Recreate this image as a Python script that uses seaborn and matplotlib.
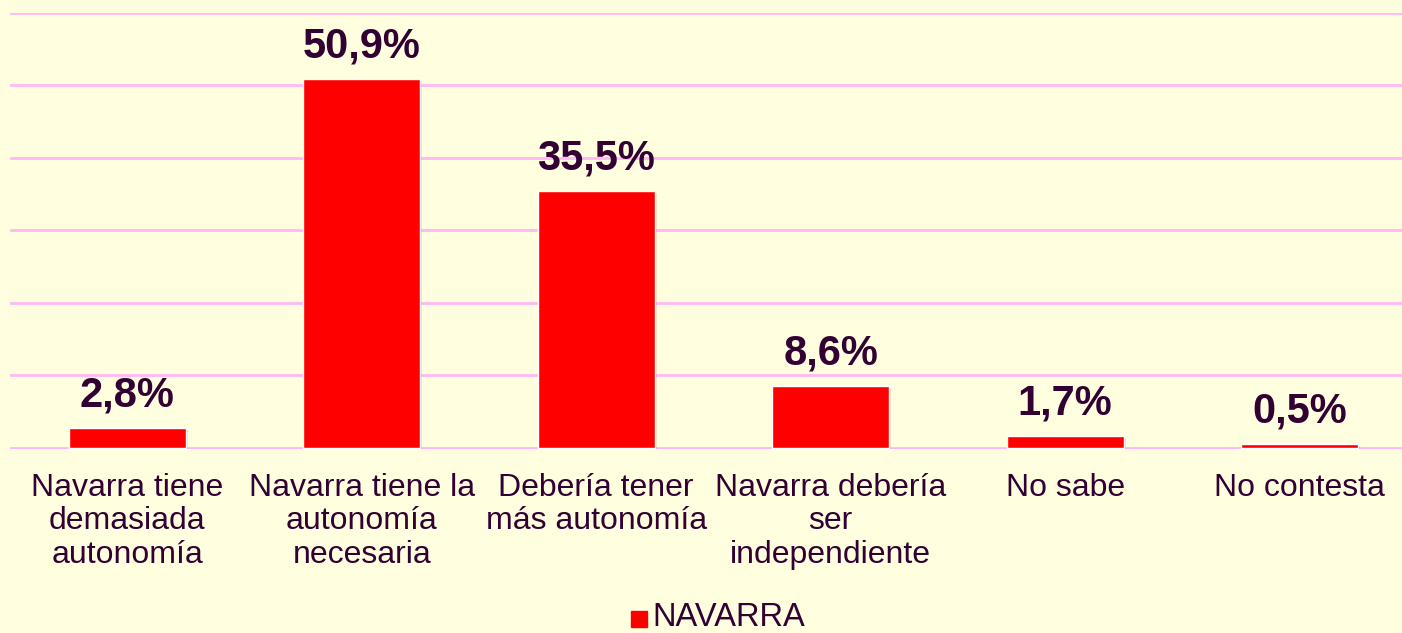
import matplotlib
matplotlib.use('Agg')
import matplotlib.pyplot as plt
import matplotlib.patheffects as pe
import seaborn as sns
import pandas as pd

# datos
categorias = [
    "Navarra tiene\ndemasiada\nautonomía",
    "Navarra tiene la\nautonomía\nnecesaria",
    "Debería tener\nmás autonomía",
    "Navarra debería\nser\nindependiente",
    "No sabe",
    "No contesta",
]
valores = [2.8, 50.9, 35.5, 8.6, 1.7, 0.5]
serie = "NAVARRA"

fondo = "#FFFFE0"
texto = "#330033"
rejilla = "#FFB8F5"

sns.set_theme(style="white")
plt.rcParams['font.family'] = ['Liberation Sans', 'DejaVu Sans']

df = pd.DataFrame({"cat": categorias, "val": valores, "serie": serie})

fig = plt.figure(figsize=(14.02, 6.33), dpi=100, facecolor=fondo)
ax = fig.add_axes([10 / 1402, 1 - 449 / 633, 1407 / 1402, (449 - 13) / 633])
ax.set_facecolor(fondo)

sns.barplot(data=df, x="cat", y="val", hue="serie", palette=["#FF0000"],
            saturation=1, width=0.5, ax=ax, legend=False, zorder=3)
for b in ax.patches:
    b.set_path_effects([pe.SimplePatchShadow(offset=(1.5, -1.5), alpha=0.12), pe.Normal()])

ax.set_ylim(-0.15, 60)
ax.set_xlim(-0.5, 5.5)
ax.set_yticks(range(0, 61, 10))
ax.yaxis.grid(True, color=rejilla, linewidth=2)
ax.set_axisbelow(True)
ax.tick_params(axis="y", left=False, labelleft=False)
ax.tick_params(axis="x", bottom=False, colors=texto, labelsize=23, pad=11)
for s in ax.spines.values():
    s.set_visible(False)
ax.set_xlabel("")
ax.set_ylabel("")
for t in ax.get_xticklabels():
    t.set_verticalalignment("top")
    t.set_linespacing(1.16)
    t.set_color(texto)

for i, v in enumerate(valores):
    ax.annotate(f"{v:.1f}%".replace(".", ","), (i, v), xytext=(0, 9),
                textcoords="offset points", ha="center", va="bottom",
                fontsize=30, fontweight="bold", color=texto)

# leyenda
fig.patches.append(plt.Rectangle((631 / 1402, 1 - 627 / 633), 16 / 1402, 16 / 633,
                                 transform=fig.transFigure, color="#FF0000"))
fig.text(652 / 1402, 1 - 618 / 633, serie, fontsize=23.5, color=texto, va="center", ha="left")

fig.savefig("out.png", dpi=100, facecolor=fondo)
